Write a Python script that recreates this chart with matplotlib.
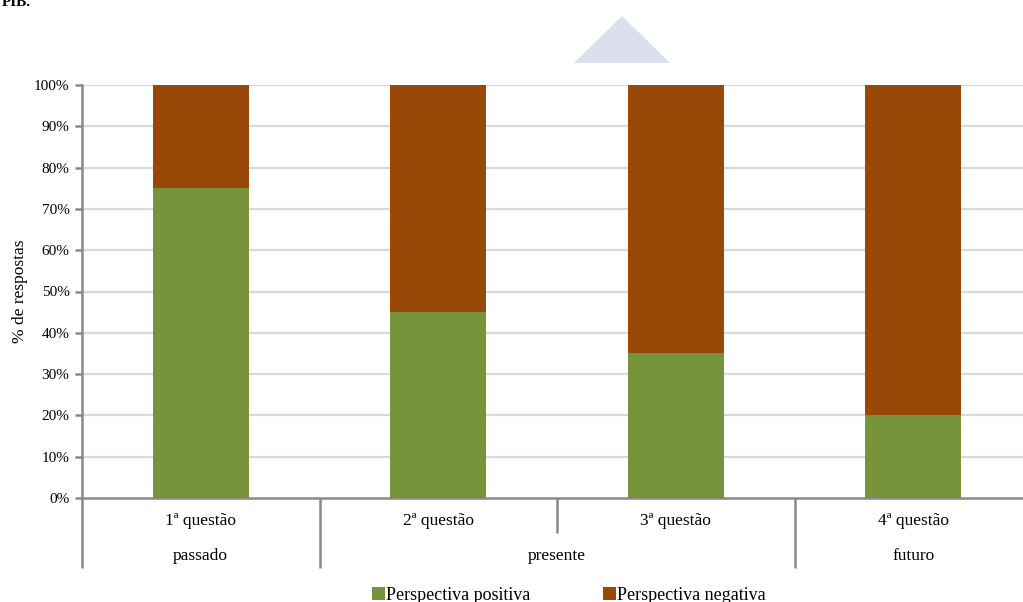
import matplotlib
import matplotlib.pyplot as plt
from matplotlib.patches import Patch, Polygon
from matplotlib.transforms import blended_transform_factory

matplotlib.use("Agg")

# Answers per question (share of respondents)
questions = ["1ª questão", "2ª questão", "3ª questão", "4ª questão"]
periods = ["passado", "presente", "futuro"]
period_spans = [(0, 0), (1, 2), (3, 3)]
positive = [75, 45, 35, 20]
negative = [25, 55, 65, 80]

GREEN = "#77933C"
BROWN = "#984807"
GRID = "#D9D9D9"
AXIS = "#898989"

plt.rcParams["font.family"] = ["Liberation Serif", "DejaVu Serif"]
plt.rcParams["font.size"] = 10.5

W, H = 1023, 602
fig = plt.figure(figsize=(W / 100, H / 100), dpi=100)

# plot area in pixels: left 82, top 85, bottom 498, category width 237.5
left, top, bottom, cat_w = 82, 85, 498, 237.5
ax = fig.add_axes([left / W, (H - bottom) / H, 4 * cat_w / W, (bottom - top) / H])

x = list(range(len(questions)))
ax.bar(x, positive, width=0.405, color=GREEN, zorder=3)
ax.bar(x, negative, width=0.405, bottom=positive, color=BROWN, zorder=3)

ax.set_xlim(-0.5, len(questions) - 0.5)
ax.set_ylim(0, 100)
ax.set_yticks(range(0, 101, 10))
ax.set_yticklabels([f"{v}%" for v in range(0, 101, 10)])
ax.set_xticks([])
for v in range(10, 101, 10):
    ax.axhline(v, color=GRID, lw=1.6, zorder=1)

for side in ("top", "right"):
    ax.spines[side].set_visible(False)
for side in ("left", "bottom"):
    ax.spines[side].set_color(AXIS)
    ax.spines[side].set_linewidth(1.8)
ax.tick_params(axis="y", length=5, width=1.8, color=AXIS, pad=4, labelsize=11)
ax.set_ylabel("% de respostas", labelpad=4, fontsize=12.5)

# two-level category axis
row_h = 35 / (bottom - top)
tr = blended_transform_factory(ax.transData, ax.transAxes)
for i, q in enumerate(questions):
    ax.text(i, -0.66 * row_h, q, transform=tr, ha="center", va="center", fontsize=12.5)
for name, (a, b) in zip(periods, period_spans):
    ax.text((a + b) / 2, -1.66 * row_h, name, transform=tr, ha="center", va="center",
            fontsize=12.5)

seps = [(-0.5, 2), (0.5, 2), (1.5, 1), (2.5, 2)]
for sx, rows in seps:
    ax.plot([sx, sx], [0, -rows * row_h], transform=tr, color=AXIS,
            lw=1.8, clip_on=False, solid_capstyle="butt")

handles = [Patch(facecolor=GREEN, label="Perspectiva positiva"),
           Patch(facecolor=BROWN, label="Perspectiva negativa")]
fig.legend(handles=handles, loc="center", bbox_to_anchor=(569 / W, (H - 595) / H),
           ncol=2, frameon=False, handlelength=0.7, handleheight=0.7,
           handletextpad=0.1, columnspacing=4.0, fontsize=13)

# decorative shape above the chart
tri = Polygon([(574 / W, (H - 63) / H), (622 / W, (H - 16) / H), (670 / W, (H - 63) / H)],
              closed=True, transform=fig.transFigure, facecolor="#DCDFEC",
              edgecolor="none")
fig.patches.append(tri)

fig.text(2 / W, (H + 4) / H, "PIB.", ha="left", va="top", fontsize=11, weight="bold")

fig.savefig("out.png", dpi=100)
